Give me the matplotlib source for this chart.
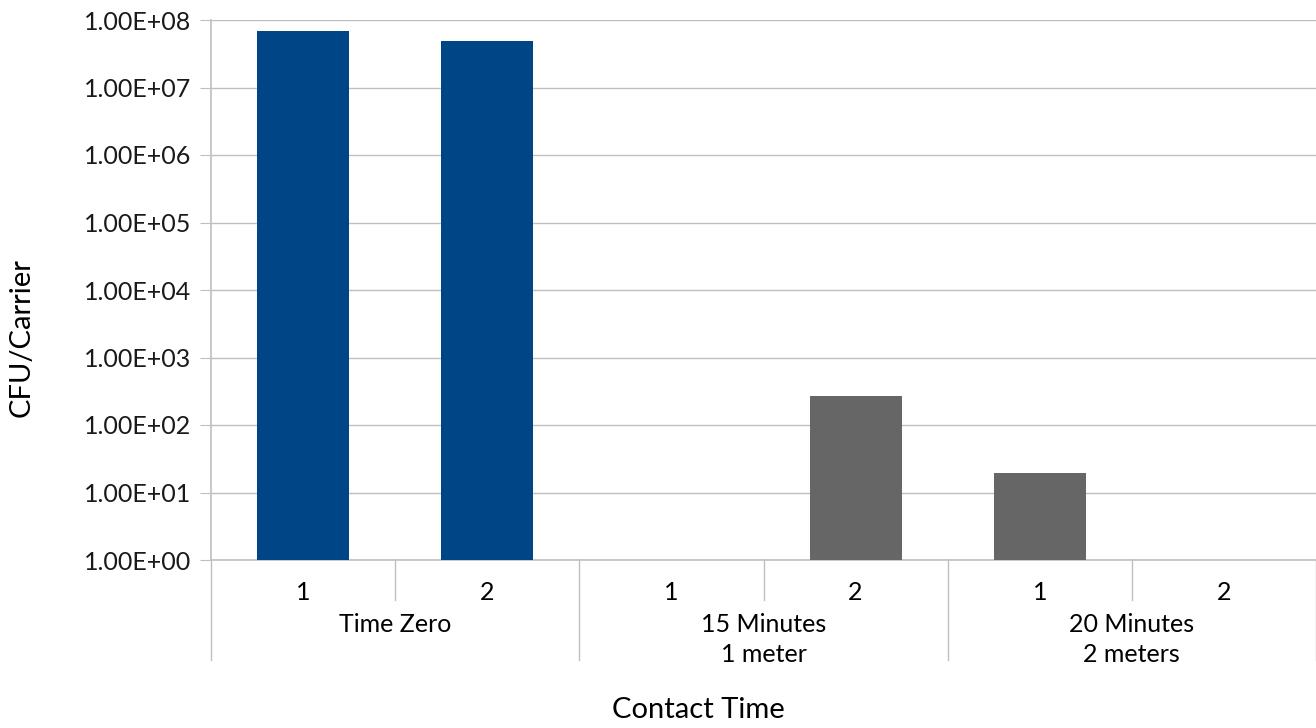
import matplotlib.pyplot as plt
import matplotlib.transforms as mtransforms
import numpy as np

plt.rcParams["font.family"] = ["Lato", "DejaVu Sans"]
plt.rcParams["font.size"] = 18

# data
groups = ["Time Zero", "15 Minutes\n1 meter", "20 Minutes\n2 meters"]
replicates = ["1", "2", "1", "2", "1", "2"]
cfu = [6.9e7, 4.9e7, np.nan, 2.7e2, 1.95e1, np.nan]
bar_colors = ["#004586", "#004586", "#666666", "#666666", "#666666", "#666666"]
y_ticks = [1e0, 1e1, 1e2, 1e3, 1e4, 1e5, 1e6, 1e7, 1e8]

grid_col = "#BFBFBF"

fig = plt.figure(figsize=(13.16, 7.28), dpi=100)
ax = fig.add_axes([211 / 1316, 1 - 560 / 728, (1316 - 211) / 1316, 540 / 728])

ax.set_yscale("log")
x = np.arange(len(cfu))
ax.bar(x, cfu, width=0.5, color=bar_colors, zorder=3)

ax.set_ylim(1, 1e8)
ax.set_xlim(-0.5, len(cfu) - 0.5)
ax.set_yticks(y_ticks)
ax.set_yticklabels(["%.2fE+%02d" % (1, int(np.log10(v))) for v in y_ticks])
ax.minorticks_off()
ax.yaxis.grid(True, color=grid_col, linewidth=1, zorder=0)

for s in ["top", "right"]:
    ax.spines[s].set_visible(False)
for s in ["left", "bottom"]:
    ax.spines[s].set_color(grid_col)
    ax.spines[s].set_linewidth(1.2)

ax.tick_params(axis="y", length=8, color=grid_col, pad=6, labelcolor="#1a1a1a")
ax.set_xticks([])

# category labels and separators below the axis
trans = mtransforms.blended_transform_factory(ax.transData, ax.transAxes)
for i, lab in enumerate(replicates):
    ax.text(i, -32 / 540, lab, transform=trans, ha="center", va="center")
for i in [0.5, 2.5, 4.5]:
    ax.plot([i, i], [0, -40 / 540], transform=trans, color=grid_col, lw=1, clip_on=False)
for i in [-0.5, 1.5, 3.5, 5.5]:
    ax.plot([i, i], [0, -100 / 540], transform=trans, color=grid_col, lw=1, clip_on=False)
for g, lab in enumerate(groups):
    for k, line in enumerate(lab.split("\n")):
        ax.text(2 * g + 0.5, -(64 + 30 * k) / 540, line, transform=trans,
                ha="center", va="center")

fig.text(698 / 1316, 1 - 710 / 728, "Contact Time", ha="center", va="center", fontsize=21)
fig.text(22 / 1316, 1 - 338 / 728, "CFU/Carrier", ha="center", va="center",
         rotation=90, fontsize=21)

fig.savefig("out.png", dpi=100)
